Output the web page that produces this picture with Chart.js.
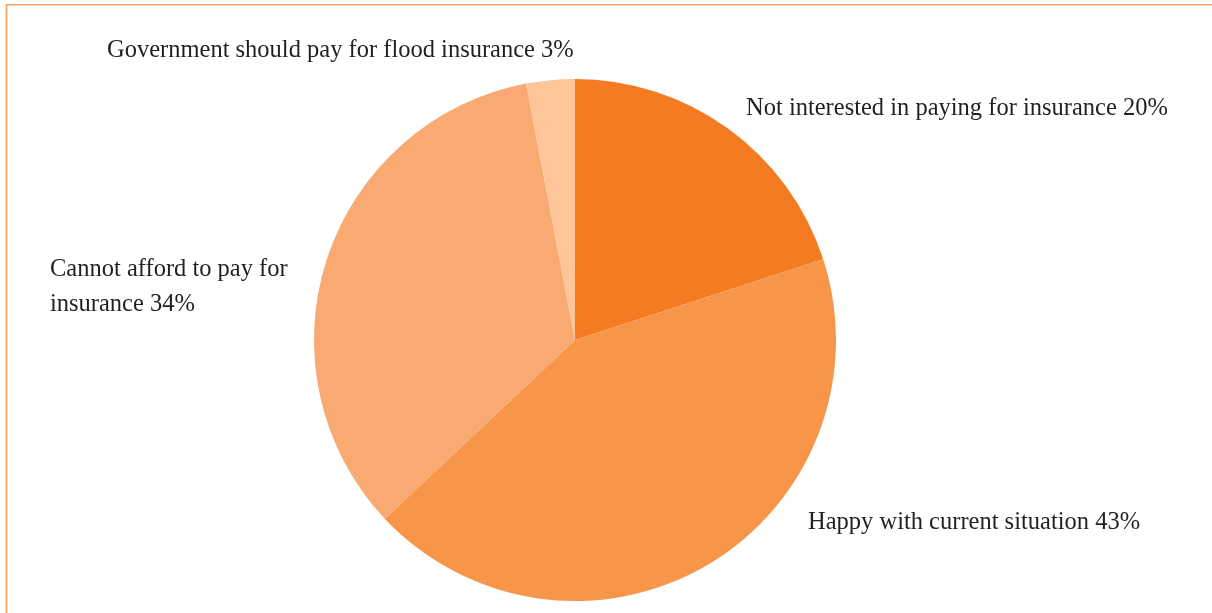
<!DOCTYPE html>
<html>
<head>
<meta charset="utf-8">
<script src="https://cdn.jsdelivr.net/npm/chart.js@4/dist/chart.umd.min.js"></script>
<style>
html,body{margin:0;padding:0;background:#fff;}
#wrap{position:relative;width:1212px;height:613px;}
</style>
</head>
<body>
<div id="wrap"><canvas id="c" width="1212" height="613"></canvas></div>
<script>
const categories = [
  "Not interested in paying for insurance",
  "Happy with current situation",
  "Cannot afford to pay for insurance",
  "Government should pay for flood insurance"
];
const values = [20, 43, 34, 3];
const colors = ["#F47B22", "#F79548", "#F9A972", "#FDC598"];
const labelLines = [
  ["Not interested in paying for insurance 20%"],
  ["Happy with current situation 43%"],
  ["Cannot afford to pay for", "insurance 34%"],
  ["Government should pay for flood insurance 3%"]
];
// label anchor positions (left x, first-line middle y)
const labelPos = [[746,109],[808,523],[50,270],[107,51]];

const framePlugin = {
  id: 'frame',
  beforeDraw(chart){
    const ctx = chart.ctx;
    ctx.save();
    ctx.strokeStyle = '#F5A263';
    ctx.lineWidth = 1.6;
    ctx.beginPath();
    ctx.moveTo(6.5, 613);
    ctx.lineTo(6.5, 4.8);
    ctx.lineTo(1212, 4.8);
    ctx.stroke();
    ctx.restore();
  }
};
const labelPlugin = {
  id: 'labels',
  afterDraw(chart){
    const ctx = chart.ctx;
    ctx.save();
    ctx.font = '24.5px "Liberation Serif", "Times New Roman", serif';
    ctx.fillStyle = '#231F20';
    ctx.textBaseline = 'middle';
    ctx.textAlign = 'left';
    labelLines.forEach((lines, i) => {
      const [x, y] = labelPos[i];
      lines.forEach((t, j) => ctx.fillText(t, x, y + j*35));
    });
    ctx.restore();
  }
};

new Chart(document.getElementById('c'), {
  type: 'pie',
  data: {
    labels: categories,
    datasets: [{
      data: values,
      backgroundColor: colors,
      borderWidth: 0
    }]
  },
  options: {
    responsive: false,
    animation: false,
    layout: { padding: { top: 79, bottom: 12, left: 314, right: 376 } },
    plugins: { legend: { display: false }, tooltip: { enabled: false } }
  },
  plugins: [framePlugin, labelPlugin]
});
</script>
</body>
</html>
